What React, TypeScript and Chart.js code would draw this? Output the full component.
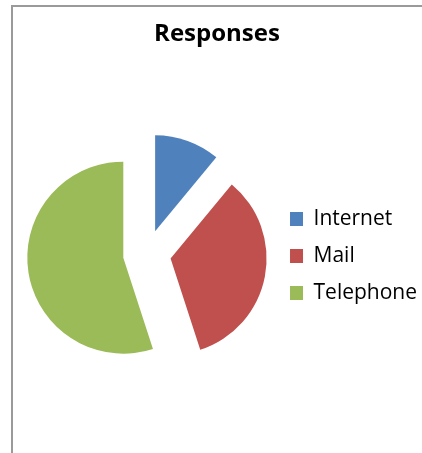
import React, { useEffect, useRef } from "react";
import { Chart, registerables } from "chart.js";

Chart.register(...registerables);

const titleText = "Responses";
const categories = ["Internet", "Mail", "Telephone"];
const values = [11, 34, 55];
const colors = ["#4F81BD", "#C0504D", "#9BBB59"];

// Excel-style point explosion (pixels) and horizontal nudge of the pie
const EXPLODE_PX = 24;
const PIE_SHIFT_X = 6.5;

// Draw every arc element (computed by Chart.js) moved out along its own mid-angle
const explodePlugin = {
  id: "explode",
  beforeDatasetDraw(chart: any, args: any) {
    const ctx = chart.ctx;
    args.meta.data.forEach((arc: any) => {
      const mid = (arc.startAngle + arc.endAngle) / 2;
      ctx.save();
      ctx.translate(PIE_SHIFT_X + Math.cos(mid) * EXPLODE_PX, Math.sin(mid) * EXPLODE_PX);
      arc.draw(ctx, chart.chartArea);
      ctx.restore();
    });
    return false;
  },
};

const framePlugin = {
  id: "frame",
  beforeDraw(chart: any) {
    const ctx = chart.ctx;
    ctx.save();
    ctx.fillStyle = "#ffffff";
    ctx.fillRect(0, 0, chart.width, chart.height);
    ctx.strokeStyle = "#9a9a9a";
    ctx.lineWidth = 2;
    ctx.beginPath();
    ctx.moveTo(12, chart.height + 2);
    ctx.lineTo(12, 6);
    ctx.lineTo(chart.width + 2, 6);
    ctx.stroke();
    ctx.restore();
  },
};

export default function App() {
  const ref = useRef<HTMLCanvasElement | null>(null);
  useEffect(() => {
    document.body.style.margin = "0";
    const chart = new Chart(ref.current as HTMLCanvasElement, {
      type: "pie",
      data: {
        labels: categories,
        datasets: [
          {
            data: values,
            backgroundColor: colors,
            borderWidth: 0,
            offset: 0,
            hoverOffset: 0,
            radius: 96,
          },
        ],
      },
      options: {
        responsive: false,
        animation: false,
        layout: { padding: { left: 7, right: -5, top: 0, bottom: 5 } },
        plugins: {
          tooltip: { enabled: false },
          title: {
            display: true,
            text: titleText,
            color: "#000000",
            font: { family: "'Open Sans'", size: 24, weight: "bold", lineHeight: 1.2 },
            padding: { top: 20, bottom: 11 },
          },
          legend: {
            position: "right",
            fullSize: false,
            title: {
              display: true,
              text: " ",
              font: { size: 1, lineHeight: 1 },
              padding: { top: 3, bottom: 0 },
            },
            labels: {
              color: "#000000",
              font: { family: "'Open Sans'", size: 21 },
              boxWidth: 13,
              boxHeight: 14,
              padding: 16,
            },
          },
        },
      } as any,
      plugins: [framePlugin, explodePlugin],
    });
    return () => chart.destroy();
  }, []);
  return (
    <div style={{ position: "absolute", left: 0, top: 0, width: 422, height: 453 }}>
      <canvas ref={ref} width={422} height={453} />
    </div>
  );
}
